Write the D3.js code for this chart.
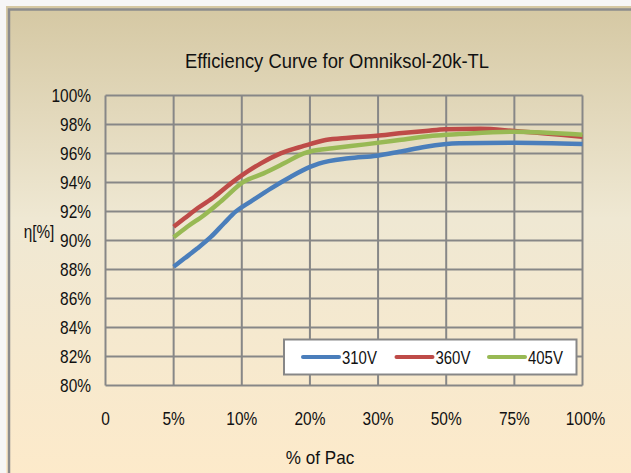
<!DOCTYPE html>
<html>
<head>
<meta charset="utf-8">
<script src="https://cdn.jsdelivr.net/npm/d3@7/dist/d3.min.js"></script>
<style>
  html, body { margin: 0; padding: 0; background: #f6f6f6; }
  svg text { font-family: "Liberation Sans", Arial, sans-serif; fill: #111; }
</style>
</head>
<body>
<div id="chart"></div>
<script>
var w = 631;
var h = 473;

// data (load categories and efficiency curves)
var loadLabels = ["0", "5%", "10%", "20%", "30%", "50%", "75%", "100%"];
var effTicks = [80, 82, 84, 86, 88, 90, 92, 94, 96, 98, 100];

var v310Pos = [1.00, 1.16, 1.35, 1.55, 1.74, 1.91, 2.13, 2.43, 2.72, 3.01, 3.13, 3.57, 3.98, 4.31, 4.70, 5.19, 6.00, 7.00];
var v310Eff = [88.19, 88.77, 89.46, 90.26, 91.19, 91.99, 92.68, 93.60, 94.40, 95.09, 95.30, 95.67, 95.85, 96.12, 96.47, 96.70, 96.75, 96.65];

var v360Pos = [1.00, 1.16, 1.35, 1.60, 1.84, 2.01, 2.28, 2.57, 2.91, 3.23, 3.57, 3.98, 4.31, 4.70, 4.99, 5.50, 6.00, 7.00];
var v360Eff = [90.95, 91.53, 92.22, 93.02, 93.94, 94.52, 95.32, 96.01, 96.52, 96.93, 97.09, 97.23, 97.39, 97.55, 97.67, 97.70, 97.55, 97.15];

var v405Pos = [1.00, 1.20, 1.45, 1.69, 2.03, 2.32, 2.62, 2.91, 3.03, 3.33, 3.81, 4.31, 4.80, 5.19, 6.00, 7.00];
var v405Eff = [90.22, 90.95, 91.76, 92.68, 94.06, 94.63, 95.32, 96.01, 96.17, 96.36, 96.63, 96.93, 97.23, 97.34, 97.50, 97.30];

var seriesNames = ["310V", "360V", "405V"];
var seriesColors = ["#4a7ebb", "#be4b48", "#98b954"];

var svg = d3.select("#chart")
  .append("svg")
  .attr("width", w)
  .attr("height", h);

// narrow-looking text: the source font is condensed, so squeeze horizontally
function label(g, tx, ty, str, size, sx, anchor) {
  return g.append("text")
    .attr("transform", "translate(" + tx + "," + ty + ") scale(" + sx + ",1)")
    .attr("text-anchor", anchor)
    .attr("font-size", size)
    .text(str);
}

// background frame with gradient
var defs = svg.append("defs");
var grad = defs.append("linearGradient")
  .attr("id", "bg")
  .attr("x1", 0).attr("y1", 0).attr("x2", 0).attr("y2", 1);
grad.append("stop").attr("offset", "0%").attr("stop-color", "#d5c8a3");
grad.append("stop").attr("offset", "45%").attr("stop-color", "#efe8d3");
grad.append("stop").attr("offset", "100%").attr("stop-color", "#fdeaca");

svg.append("rect")
  .attr("x", 6).attr("y", 6)
  .attr("width", w).attr("height", h)
  .attr("fill", "url(#bg)");
svg.append("rect")
  .attr("x", 9).attr("y", 9.5)
  .attr("width", w).attr("height", h)
  .attr("fill", "none")
  .attr("stroke", "#8c8c8c")
  .attr("stroke-width", 2.5);

// scales
var x = d3.scaleLinear().domain([0, loadLabels.length - 1]).range([105.5, 582.5]);
var y = d3.scaleLinear().domain([80, 100]).range([385.5, 95.5]);

// grid
var grid = svg.append("g");
grid.selectAll(".hgrid")
  .data(effTicks)
  .enter()
  .append("line")
  .attr("x1", x(0)).attr("x2", x(7))
  .attr("y1", function(d) { return y(d); })
  .attr("y2", function(d) { return y(d); })
  .attr("stroke", "#878787")
  .attr("stroke-width", 2);
grid.selectAll(".vgrid")
  .data(loadLabels)
  .enter()
  .append("line")
  .attr("x1", function(d, i) { return x(i); })
  .attr("x2", function(d, i) { return x(i); })
  .attr("y1", y(100)).attr("y2", y(80))
  .attr("stroke", "#878787")
  .attr("stroke-width", 2);

// tick labels
effTicks.forEach(function(d) {
  label(svg, 91, y(d) + 6.5, d + "%", 18, 0.86, "end");
});
loadLabels.forEach(function(d, i) {
  label(svg, x(i) + (i == 7 ? 3 : 0), 425, d, 18, 0.86, "middle");
});

// titles
label(svg, 337, 68, "Efficiency Curve for Omniksol-20k-TL", 20, 0.92, "middle");
label(svg, 320, 464, "% of Pac", 18, 0.95, "middle");
label(svg, 39, 238, "η[%]", 18, 0.85, "middle");

// curves
var series = [
  { pos: v310Pos, eff: v310Eff },
  { pos: v360Pos, eff: v360Eff },
  { pos: v405Pos, eff: v405Eff }
];

var line = d3.line()
  .x(function(d) { return x(d[0]); })
  .y(function(d) { return y(d[1]); })
  .curve(d3.curveMonotoneX);

series.forEach(function(s, k) {
  var pts = s.pos.map(function(p, i) { return [p, s.eff[i]]; });
  svg.append("path")
    .datum(pts)
    .attr("d", line)
    .attr("fill", "none")
    .attr("stroke", seriesColors[k])
    .attr("stroke-width", 4.5)
    .attr("stroke-linejoin", "round");
});

// legend
var legend = svg.append("g");
legend.append("rect")
  .attr("x", 284).attr("y", 339.5)
  .attr("width", 292.5).attr("height", 35)
  .attr("fill", "#ffffff")
  .attr("stroke", "#878787")
  .attr("stroke-width", 2);

var legendX = [303, 396.5, 489];
seriesNames.forEach(function(name, k) {
  legend.append("line")
    .attr("x1", legendX[k]).attr("x2", legendX[k] + 36)
    .attr("y1", 357).attr("y2", 357)
    .attr("stroke", seriesColors[k])
    .attr("stroke-width", 4)
    .attr("stroke-linecap", "round");
  label(legend, legendX[k] + 39, 363.5, name, 18, 0.83, "start");
});
</script>
</body>
</html>
